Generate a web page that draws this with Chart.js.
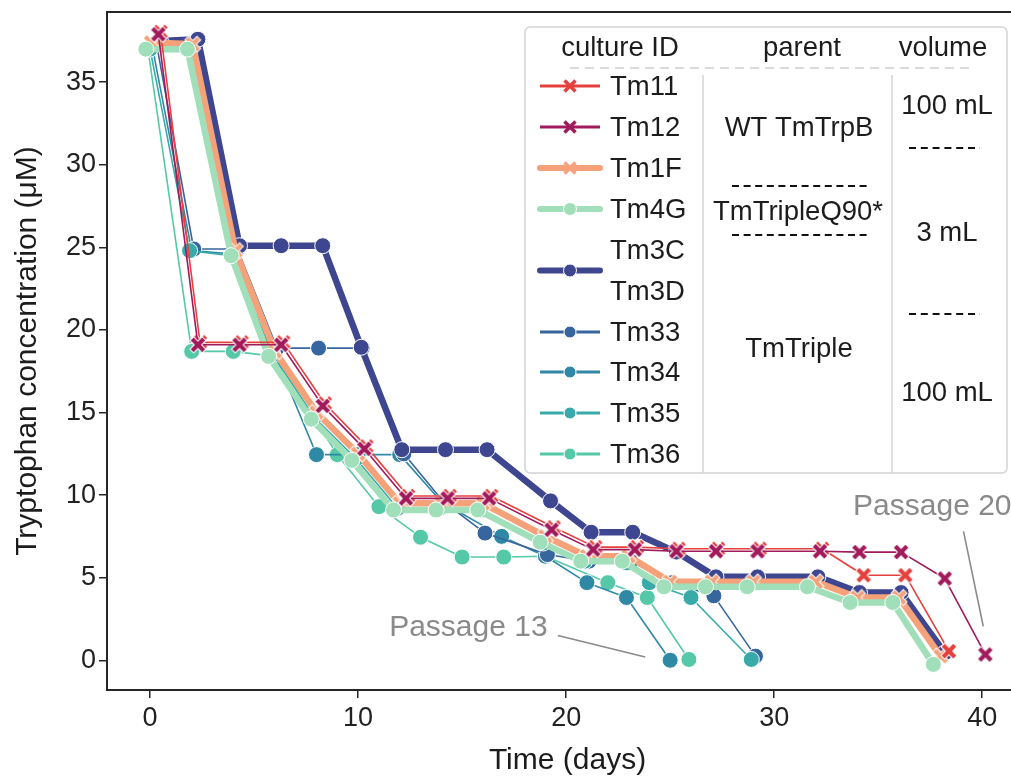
<!DOCTYPE html>
<html>
<head>
<meta charset="utf-8">
<script src="https://cdn.jsdelivr.net/npm/chart.js@4.4.1/dist/chart.umd.min.js"></script>
<style>
  html, body { margin: 0; padding: 0; background: #fff; overflow: hidden; }
  #wrap { width: 1011px; height: 780px; overflow: hidden; position: relative; }
  canvas { display: block; }
</style>
</head>
<body>
<div id="wrap"><canvas id="c" width="1040" height="780" style="width:1040px;height:780px"></canvas></div>
<script>
// ---- data: sampling day and tryptophan concentration (µM) per culture ----
const xTicks = [0, 10, 20, 30, 40];
const yTicks = [0, 5, 10, 15, 20, 25, 30, 35];

const tm11Days = [0.5, 2.4, 4.4, 6.4, 8.4, 10.4, 12.4, 14.4, 16.4, 19.4, 21.4, 23.4, 25.4, 27.3, 29.3, 32.3, 34.3, 36.3, 38.4];
const tm11Conc = [38.05, 19.25, 19.25, 19.25, 15.55, 12.95, 9.95, 9.95, 9.95, 8.05, 6.85, 6.85, 6.75, 6.75, 6.75, 6.75, 5.15, 5.15, 0.55];

const tm12Days = [0.4, 2.3, 4.3, 6.3, 8.3, 10.3, 12.3, 14.3, 16.3, 19.3, 21.3, 23.3, 25.3, 27.2, 29.2, 32.2, 34.1, 36.1, 38.2, 40.15];
const tm12Conc = [37.9, 19.1, 19.1, 19.1, 15.4, 12.8, 9.8, 9.8, 9.8, 7.9, 6.7, 6.7, 6.6, 6.6, 6.6, 6.6, 6.55, 6.55, 4.95, 0.35];

const tm1FDays = [0.05, 2.05, 4.1, 6.0, 8.0, 10.0, 12.0, 14.0, 16.0, 19.0, 21.0, 23.0, 25.0, 27.0, 29.0, 32.0, 34.0, 36.0, 38.0];
const tm1FConc = [37.4, 37.3, 24.8, 18.7, 15.0, 12.5, 9.5, 9.5, 9.5, 7.5, 6.3, 6.3, 4.75, 4.75, 4.75, 4.75, 3.8, 3.8, 0.25];

const tm4GDays = [-0.2, 1.8, 3.9, 5.7, 7.75, 9.7, 11.7, 13.75, 15.75, 18.75, 20.7, 22.7, 24.7, 26.7, 28.7, 31.6, 33.65, 35.7, 37.65];
const tm4GConc = [37.0, 37.0, 24.5, 18.4, 14.6, 12.1, 9.1, 9.1, 9.1, 7.15, 6.0, 6.0, 4.45, 4.45, 4.45, 4.45, 3.5, 3.5, -0.25];

const tm3CDays = [0.5, 2.3, 4.3, 6.3, 8.3, 10.15, 12.1, 14.2, 16.2, 19.25, 21.2, 23.2, 25.3, 27.2, 29.2, 32.1, 34.1, 36.1, 38.2];
const tm3CConc = [37.5, 37.6, 25.1, 25.1, 25.1, 18.95, 12.75, 12.75, 12.75, 9.65, 7.75, 7.75, 6.55, 5.05, 5.05, 5.05, 4.1, 4.1, 0.45];

const tm33Days = [0.3, 2.1, 4.2, 6.1, 8.1, 10.2, 12.2, 14.1, 16.1, 19.1, 21.1, 23.1, 25.1, 27.1, 29.1];
const tm33Conc = [37.4, 24.9, 24.9, 18.9, 18.9, 18.9, 12.5, 9.6, 7.7, 6.4, 6.0, 6.0, 4.7, 3.9, 0.25];

const tm34Days = [0.1, 2.0, 4.0, 6.0, 8.0, 10.0, 12.0, 14.0, 16.9, 19.0, 21.0, 22.9, 25.0];
const tm34Conc = [37.2, 24.8, 24.6, 18.5, 12.45, 12.45, 12.45, 9.6, 7.5, 6.3, 4.7, 3.8, 0.0];

const tm35Days = [0.0, 1.9, 3.9, 5.9, 7.9, 9.9, 11.9, 13.9, 15.9, 18.9, 20.9, 22.9, 24.0, 26.0, 28.9];
const tm35Conc = [37.0, 24.8, 24.5, 18.5, 14.7, 12.2, 9.2, 9.2, 9.1, 7.1, 6.0, 5.9, 4.7, 3.8, 0.05];

const tm36Days = [-0.1, 2.0, 4.0, 6.0, 9.0, 11.0, 13.0, 15.0, 17.0, 19.0, 22.0, 23.9, 25.9];
const tm36Conc = [37.0, 18.7, 18.7, 18.4, 12.45, 9.3, 7.45, 6.25, 6.25, 6.3, 4.7, 3.8, 0.05];

const legendLabels = ['Tm11', 'Tm12', 'Tm1F', 'Tm4G', 'Tm3C', 'Tm3D', 'Tm33', 'Tm34', 'Tm35', 'Tm36'];
const parentLabels = ['WT TmTrpB', 'TmTripleQ90*', 'TmTriple'];
const volumeLabels = ['100 mL', '3 mL', '100 mL'];
const legendHeaders = ['culture ID', 'parent', 'volume'];

// callouts: text anchor and leader line, in data units (day, µM)
const passageNotes = [
  { text: 'Passage 13', at: [15.3, 2.0], from: [19.6, 1.5], to: [23.8, 0.2] },
  { text: 'Passage 20', at: [37.6, 9.3], from: [39.1, 7.8], to: [40.05, 2.05] }
];

// ---- styles ----
const FONT = '"Liberation Sans", Arial, Helvetica, sans-serif';
const COL = {
  tm11: '#e6403d', tm12: '#a01a5c', tm1F: '#f5a27a', tm4G: '#a0dfb9',
  tm3C: '#3e468f', tm33: '#37659e', tm34: '#2f89a5', tm35: '#38aaaa', tm36: '#55c9a7'
};

function makeXMarker(color, size, w) {
  const c = document.createElement('canvas');
  const s = size + 4;
  c.width = s; c.height = s;
  const g = c.getContext('2d');
  g.translate(s / 2, s / 2);
  g.rotate(Math.PI / 4);
  const a = size / Math.SQRT2 - w;
  const pts = [[-w,-a],[w,-a],[w,-w],[a,-w],[a,w],[w,w],[w,a],[-w,a],[-w,w],[-a,w],[-a,-w],[-w,-w]];
  g.beginPath();
  pts.forEach((p, i) => i ? g.lineTo(p[0], p[1]) : g.moveTo(p[0], p[1]));
  g.closePath();
  g.fillStyle = color; g.fill();
  g.strokeStyle = '#ffffff'; g.lineWidth = 1; g.stroke();
  return c;
}

function series(label, days, conc, color, o) {
  return {
    label,
    data: days.map((d, i) => ({ x: d, y: conc[i] })),
    showLine: true,
    borderColor: color,
    backgroundColor: color,
    borderWidth: o.width,
    borderCapStyle: o.width > 3 ? 'round' : 'butt',
    borderJoinStyle: 'round',
    pointStyle: o.marker === 'x' ? makeXMarker(color, 16, 2.6) : 'circle',
    pointRadius: 8,
    pointBackgroundColor: color,
    pointBorderColor: '#ffffff',
    pointBorderWidth: 1,
    order: o.order,
    tension: 0,
    clip: 4
  };
}

const datasets = [
  series('Tm12', tm12Days, tm12Conc, COL.tm12, { width: 1.6, marker: 'x', order: 0 }),
  series('Tm11', tm11Days, tm11Conc, COL.tm11, { width: 1.6, marker: 'x', order: 1 }),
  series('Tm4G', tm4GDays, tm4GConc, COL.tm4G, { width: 6.5, marker: 'o', order: 2 }),
  series('Tm1F', tm1FDays, tm1FConc, COL.tm1F, { width: 6.5, marker: 'x', order: 3 }),
  series('Tm3C', tm3CDays, tm3CConc, COL.tm3C, { width: 6.5, marker: 'o', order: 4 }),
  series('Tm35', tm35Days, tm35Conc, COL.tm35, { width: 1.6, marker: 'o', order: 5 }),
  series('Tm33', tm33Days, tm33Conc, COL.tm33, { width: 1.6, marker: 'o', order: 6 }),
  series('Tm34', tm34Days, tm34Conc, COL.tm34, { width: 1.6, marker: 'o', order: 7 }),
  series('Tm36', tm36Days, tm36Conc, COL.tm36, { width: 1.6, marker: 'o', order: 8 })
];

// legend table geometry (canvas px)
const LEG = {
  box: { x: 525, y: 27, w: 482, h: 446, r: 5 },
  headerY: 48, headerX: [620, 802, 943],
  headerRule: { y: 68, x0: 570, x1: 970 },
  dividers: [703, 892], dividerTop: 75,
  rowY: [86, 127, 168, 209, 250, 291, 332, 372, 413, 454],
  textX: 610, sampleX0: 540, sampleX1: 600, markX: 570,
  parentPos: [[799, 128], [798, 212], [799, 349]],
  parentRules: [186, 235], parentRuleX: [732, 871],
  volumePos: [[947, 106], [947, 233], [947, 393]],
  volumeRules: [148, 314], volumeRuleX: [909, 980],
  fontPx: 27.5
};
// legend sample per row: [colour, lineWidth, marker, y]
const legendSamples = [
  [COL.tm11, 3, 'x', LEG.rowY[0]],
  [COL.tm12, 3, 'x', LEG.rowY[1]],
  [COL.tm1F, 6, 'x', LEG.rowY[2]],
  [COL.tm4G, 6, 'o', LEG.rowY[3]],
  [COL.tm3C, 6, 'o', (LEG.rowY[4] + LEG.rowY[5]) / 2],
  [COL.tm33, 3, 'o', LEG.rowY[6]],
  [COL.tm34, 3, 'o', LEG.rowY[7]],
  [COL.tm35, 3, 'o', LEG.rowY[8]],
  [COL.tm36, 3, 'o', LEG.rowY[9]]
];

function dashed(ctx, x0, x1, y, color, width, dash) {
  ctx.save();
  ctx.strokeStyle = color; ctx.lineWidth = width; ctx.setLineDash(dash);
  ctx.beginPath(); ctx.moveTo(x0, y); ctx.lineTo(x1, y); ctx.stroke();
  ctx.restore();
}

const decorations = {
  id: 'decorations',
  afterDraw(chart) {
    const { ctx, chartArea, scales: { x, y } } = chart;
    ctx.save();
    // top spine
    ctx.strokeStyle = '#262626'; ctx.lineWidth = 2;
    ctx.beginPath(); ctx.moveTo(chartArea.left - 1, chartArea.top); ctx.lineTo(chartArea.right + 2, chartArea.top); ctx.stroke();

    // passage callouts
    ctx.fillStyle = '#8a8a8a'; ctx.strokeStyle = '#8a8a8a'; ctx.lineWidth = 1.6;
    ctx.font = '30px ' + FONT; ctx.textAlign = 'center'; ctx.textBaseline = 'middle';
    passageNotes.forEach(n => {
      ctx.fillText(n.text, x.getPixelForValue(n.at[0]), y.getPixelForValue(n.at[1]));
      ctx.beginPath();
      ctx.moveTo(x.getPixelForValue(n.from[0]), y.getPixelForValue(n.from[1]));
      ctx.lineTo(x.getPixelForValue(n.to[0]), y.getPixelForValue(n.to[1]));
      ctx.stroke();
    });

    // legend table
    const b = LEG.box;
    ctx.beginPath();
    ctx.roundRect(b.x, b.y, b.w, b.h, b.r);
    ctx.fillStyle = 'rgba(255,255,255,0.85)'; ctx.fill();
    ctx.strokeStyle = '#d4d4d4'; ctx.lineWidth = 1.5; ctx.stroke();

    ctx.fillStyle = '#1c1c1c';
    ctx.font = LEG.fontPx + 'px ' + FONT;
    ctx.textAlign = 'center'; ctx.textBaseline = 'middle';
    legendHeaders.forEach((h, i) => ctx.fillText(h, LEG.headerX[i], LEG.headerY));
    dashed(ctx, LEG.headerRule.x0, LEG.headerRule.x1, LEG.headerRule.y, '#cfcfcf', 1.5, [9, 6]);

    ctx.strokeStyle = '#d4d4d4'; ctx.lineWidth = 1.5;
    LEG.dividers.forEach(dx => {
      ctx.beginPath(); ctx.moveTo(dx, LEG.dividerTop); ctx.lineTo(dx, b.y + b.h); ctx.stroke();
    });

    ctx.textAlign = 'left';
    legendLabels.forEach((t, i) => ctx.fillText(t, LEG.textX, LEG.rowY[i] + 1));

    legendSamples.forEach(([c, w, m, yy]) => {
      ctx.save();
      ctx.strokeStyle = c; ctx.lineWidth = w; ctx.lineCap = w > 4 ? 'round' : 'butt';
      ctx.beginPath(); ctx.moveTo(LEG.sampleX0, yy); ctx.lineTo(LEG.sampleX1, yy); ctx.stroke();
      if (m === 'x') {
        ctx.lineCap = 'butt'; ctx.lineWidth = 3.5;
        const s = 5.5;
        ctx.beginPath();
        ctx.moveTo(LEG.markX - s, yy - s); ctx.lineTo(LEG.markX + s, yy + s);
        ctx.moveTo(LEG.markX - s, yy + s); ctx.lineTo(LEG.markX + s, yy - s);
        ctx.stroke();
      } else {
        ctx.fillStyle = c; ctx.strokeStyle = '#fff'; ctx.lineWidth = 1;
        ctx.beginPath(); ctx.arc(LEG.markX, yy, w > 4 ? 6.5 : 6, 0, Math.PI * 2); ctx.fill(); ctx.stroke();
      }
      ctx.restore();
    });

    ctx.fillStyle = '#1c1c1c';
    ctx.textAlign = 'center';
    parentLabels.forEach((t, i) => ctx.fillText(t, LEG.parentPos[i][0], LEG.parentPos[i][1]));
    volumeLabels.forEach((t, i) => ctx.fillText(t, LEG.volumePos[i][0], LEG.volumePos[i][1]));
    LEG.parentRules.forEach(yy => dashed(ctx, LEG.parentRuleX[0], LEG.parentRuleX[1], yy, '#111', 2, [7, 4.6]));
    LEG.volumeRules.forEach(yy => dashed(ctx, LEG.volumeRuleX[0], LEG.volumeRuleX[1], yy, '#111', 2, [7, 4.8]));
    ctx.restore();
  }
};

Chart.defaults.font.family = FONT;

new Chart(document.getElementById('c'), {
  type: 'scatter',
  data: { datasets },
  options: {
    responsive: false,
    animation: false,
    devicePixelRatio: 1,
    layout: { padding: { top: 12, right: 12, bottom: 0, left: 0 } },
    plugins: { legend: { display: false }, tooltip: { enabled: false } },
    scales: {
      x: {
        type: 'linear', min: -2.07, max: 42.2,
        afterBuildTicks: s => { s.ticks = xTicks.map(v => ({ value: v })); },
        afterFit: s => { s.height = 90; s.paddingLeft = 0; s.paddingRight = 0; },
        ticks: { color: '#222', font: { size: 27 }, padding: 4, maxRotation: 0 },
        grid: { drawOnChartArea: false, drawTicks: true, tickLength: 8, color: '#262626', lineWidth: 1.5 },
        border: { display: true, color: '#262626', width: 2 },
        title: { display: true, text: 'Time (days)', color: '#1c1c1c', font: { size: 30 }, padding: { top: 0, bottom: 1 } }
      },
      y: {
        type: 'linear', min: -1.8, max: 39.25,
        afterBuildTicks: s => { s.ticks = yTicks.map(v => ({ value: v })); },
        afterFit: s => { s.width = 107; s.paddingTop = 0; s.paddingBottom = 0; },
        ticks: { color: '#222', font: { size: 27 }, padding: 3 },
        grid: { drawOnChartArea: false, drawTicks: true, tickLength: 8, color: '#262626', lineWidth: 1.5 },
        border: { display: true, color: '#262626', width: 2 },
        title: { display: true, text: 'Tryptophan concentration (μM)', color: '#1c1c1c', font: { size: 30 }, padding: { top: 10, bottom: 0 } }
      }
    }
  },
  plugins: [decorations]
});
</script>
</body>
</html>
